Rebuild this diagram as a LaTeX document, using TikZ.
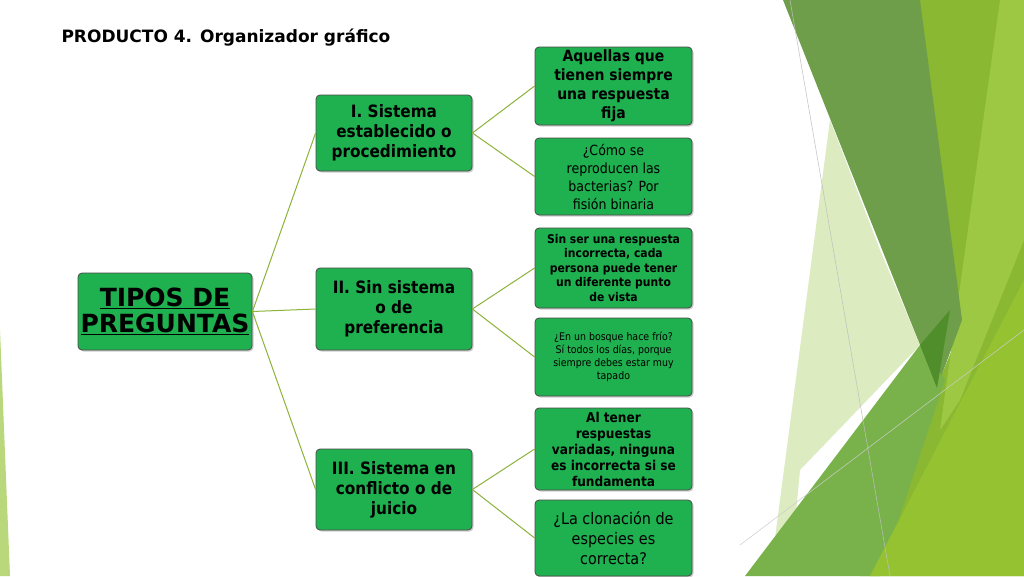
\documentclass[tikz,border=0pt]{standalone}
\usepackage{fontspec}
\setmainfont{DejaVu Sans}
\newfontfamily\cond{DejaVu Sans Condensed}
\usetikzlibrary{shadows}
\definecolor{boxg}{HTML}{1FB04F}
\definecolor{linkg}{HTML}{8DB33A}
\definecolor{bgA}{HTML}{8AB833}
\definecolor{bgB}{HTML}{9DC843}
\definecolor{bgC}{HTML}{6F9E4A}
\definecolor{bgD}{HTML}{DDEBC0}
\definecolor{bgE}{HTML}{79B24A}
\definecolor{bgF}{HTML}{4F8E2A}
\definecolor{bgG}{HTML}{95C230}
\definecolor{bgH}{HTML}{A8CF5A}
\begin{document}
\begin{tikzpicture}[x=1pt,y=-1pt,
  box/.style={draw=black!70,line width=0.8pt,rounded corners=4pt,fill=boxg,align=center,inner sep=1pt,
    drop shadow={shadow xshift=1.5pt,shadow yshift=-1.5pt,opacity=0.4}},
  link/.style={draw=linkg,line width=1pt}]
\useasboundingbox (0,0) rectangle (1024,576);
\fill[white] (0,0) rectangle (1024,576);
% background decoration
\fill[bgA] (915,0) -- (1024,0) -- (1024,576) -- (860,576) -- (960,330) -- cycle;
\fill[bgB] (1000,0) -- (1024,0) -- (1024,240) -- (960,400) -- (940,430) -- cycle;
\fill[bgC] (783,0) -- (920,0) -- (962,320) -- (937,388) -- cycle;
\fill[bgD] (830,120) -- (880,250) -- (920,345) -- (800,470) -- (790,576) -- (770,576) -- cycle;
\fill[bgE] (745,576) -- (920,345) -- (945,380) -- (880,576) -- cycle;
\fill[bgF] (920,345) -- (950,310) -- (937,388) -- cycle;
\fill[bgG] (870,576) -- (1024,280) -- (1024,576) -- cycle;
\fill[bgH,opacity=0.8] (0,330) -- (10,576) -- (0,576) -- cycle;
\draw[black!25,line width=0.5pt] (790,0) -- (890,576);
\draw[black!20,line width=0.5pt] (740,545) -- (1024,330);
% title
\node[anchor=west,font=\bfseries\fontsize{17}{20}\selectfont] (title) at (58,38) {PRODUCTO 4. Organizador gráfico};
% nodes
\node[box,minimum width=174,minimum height=77,font=\bfseries\fontsize{25}{28}\selectfont] (root) at (165,311.5)
  {\underline{TIPOS DE}\\[-2pt]\underline{PREGUNTAS}};
\node[box,minimum width=156,minimum height=76,font=\bfseries\cond\fontsize{17}{20}\selectfont] (a) at (394,133)
  {I. Sistema\\establecido o\\procedimiento};
\node[box,minimum width=156,minimum height=82,font=\bfseries\cond\fontsize{17}{20}\selectfont] (b) at (394,309)
  {II. Sin sistema\\o de\\preferencia};
\node[box,minimum width=156,minimum height=81,font=\bfseries\cond\fontsize{17}{20}\selectfont] (c) at (394,489.5)
  {III. Sistema en\\conflicto o de\\juicio};
\node[box,minimum width=157,minimum height=78,font=\bfseries\cond\fontsize{15.5}{19}\selectfont] (a1) at (613.5,86)
  {Aquellas que\\tienen siempre\\una respuesta\\fija};
\node[box,minimum width=157,minimum height=77,font=\cond\fontsize{14}{18}\selectfont] (a2) at (613.5,176.5)
  {¿Cómo se\\reproducen las\\bacterias? Por\\fisión binaria};
\node[box,minimum width=157,minimum height=80,font=\bfseries\cond\fontsize{12}{14.5}\selectfont] (b1) at (613.5,268)
  {Sin ser una respuesta\\incorrecta, cada\\persona puede tener\\un diferente punto\\de vista};
\node[box,minimum width=157,minimum height=78,font=\cond\fontsize{10.5}{13}\selectfont] (b2) at (613.5,357)
  {¿En un bosque hace frío?\\Sí todos los días, porque\\siempre debes estar muy\\tapado};
\node[box,minimum width=157,minimum height=82,font=\bfseries\cond\fontsize{13.5}{16}\selectfont] (c1) at (613.5,449)
  {Al tener\\respuestas\\variadas, ninguna\\es incorrecta si se\\fundamenta};
\node[box,minimum width=157,minimum height=76,font=\cond\fontsize{16}{20}\selectfont] (c2) at (613.5,538)
  {¿La clonación de\\especies es\\correcta?};
% connectors
\draw[link] (root.east) -- (a.west);
\draw[link] (root.east) -- (b.west);
\draw[link] (root.east) -- (c.west);
\draw[link] (a.east) -- (a1.west);
\draw[link] (a.east) -- (a2.west);
\draw[link] (b.east) -- (b1.west);
\draw[link] (b.east) -- (b2.west);
\draw[link] (c.east) -- (c1.west);
\draw[link] (c.east) -- (c2.west);
\end{tikzpicture}
\end{document}
